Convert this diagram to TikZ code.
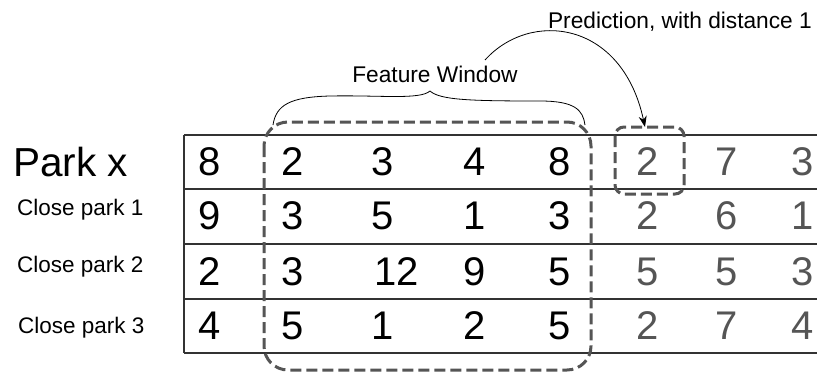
\documentclass[tikz,border=0pt]{standalone}
\usepackage{fontspec}
\setmainfont{Liberation Sans}
\usetikzlibrary{arrows.meta}
\definecolor{tgray}{HTML}{555555}
\definecolor{lgray}{HTML}{333333}
\begin{document}
\begin{tikzpicture}[x=1pt,y=-1pt,
  cell/.style={inner sep=0pt,font=\fontsize{40}{40}\selectfont,text=black},
  futcell/.style={cell,text=tgray},
  bigrow/.style={inner sep=0pt,font=\fontsize{40.5}{42}\selectfont},
  smallrow/.style={inner sep=0pt,font=\fontsize{22.5}{24}\selectfont},
  caption/.style={inner sep=0pt,font=\fontsize{22.7}{24}\selectfont},
  tline/.style={draw=lgray,line width=1.4pt},
  dashbox/.style={draw=tgray,line width=3pt,dash pattern=on 11pt off 5pt},
  thinline/.style={draw=black,line width=0.8pt}]
\useasboundingbox (0,0) rectangle (817,375);
% table lines
\foreach \yy in {135,189,244,299,353}{\draw[tline] (184,\yy) -- (817,\yy);}
\draw[tline] (184,135) -- (184,353);
% row labels
\node[bigrow,anchor=west] (lpx) at (13,162) {Park x};
\node[smallrow,anchor=west] (lc1) at (17,210) {Close park 1};
\node[smallrow,anchor=west] (lc2) at (17,267) {Close park 2};
\node[smallrow,anchor=west] (lc3) at (18,328) {Close park 3};
% row 1
\node[cell] (a1) at (210,162) {8};
\node[cell] (a2) at (293,162) {2};
\node[cell] (a3) at (383,162) {3};
\node[cell] (a4) at (475,162) {4};
\node[cell] (a5) at (560,162) {8};
\node[futcell] (a6) at (648,162) {2};
\node[futcell] (a7) at (727,162) {7};
\node[futcell] (a8) at (803,162) {3};
% row 2
\node[cell] (b1) at (210,216) {9};
\node[cell] (b2) at (293,216) {3};
\node[cell] (b3) at (383,216) {5};
\node[cell] (b4) at (475,216) {1};
\node[cell] (b5) at (560,216) {3};
\node[futcell] (b6) at (648,216) {2};
\node[futcell] (b7) at (727,216) {6};
\node[futcell] (b8) at (803,216) {1};
% row 3
\node[cell] (c1) at (210,272) {2};
\node[cell] (c2) at (293,272) {3};
\node[cell] (c3) at (397,272) {12};
\node[cell] (c4) at (475,272) {9};
\node[cell] (c5) at (560,272) {5};
\node[futcell] (c6) at (648,272) {5};
\node[futcell] (c7) at (727,272) {5};
\node[futcell] (c8) at (803,272) {3};
% row 4
\node[cell] (d1) at (210,326) {4};
\node[cell] (d2) at (293,326) {5};
\node[cell] (d3) at (383,326) {1};
\node[cell] (d4) at (475,326) {2};
\node[cell] (d5) at (560,326) {5};
\node[futcell] (d6) at (648,326) {2};
\node[futcell] (d7) at (727,326) {7};
\node[futcell] (d8) at (803,326) {4};
% feature window
\draw[dashbox,rounded corners=24pt] (264,122) rectangle (591,370);
% prediction box
\draw[dashbox,rounded corners=9pt] (615,127) rectangle (684,194);
\coordinate (ptop) at (645,127);
% brace
\draw[thinline] (273,125) .. controls (276,105) and (290,97) .. (330,96)
  .. controls (380,95) and (420,100) .. (430,91)
  .. controls (440,100) and (470,101) .. (540,101)
  .. controls (575,101) and (583,110) .. (585,125);
% captions
\node[caption] (fw) at (435,74) {Feature Window};
\node[caption,anchor=east] (pred) at (812,22) {Prediction, with distance 1};
\coordinate (astart) at (485,60);
\draw[thinline,-{Stealth[length=11pt,width=8pt]}] (astart) .. controls (530,10) and (622,20) .. (ptop);
\end{tikzpicture}
\end{document}
